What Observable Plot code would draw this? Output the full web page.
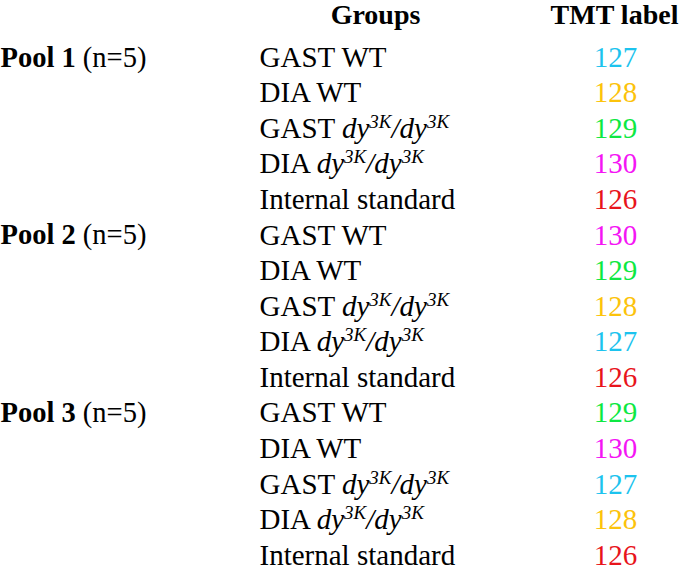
<!DOCTYPE html>
<html><head><meta charset="utf-8">
<script src="https://cdn.jsdelivr.net/npm/d3@7"></script>
<script src="https://cdn.jsdelivr.net/npm/@observablehq/plot@0.6"></script>
<style>body{margin:0;background:#fff}</style>
</head><body><div id="chart"></div>
<script>
const pools = ["Pool 1", "Pool 2", "Pool 3"];
const poolSize = "(n=5)";
const groups = ["GAST WT", "DIA WT", "GAST dy3K/dy3K", "DIA dy3K/dy3K", "Internal standard"];
const tmtPool1 = [127, 128, 129, 130, 126];
const tmtPool2 = [130, 129, 128, 127, 126];
const tmtPool3 = [129, 130, 127, 128, 126];
const tmtValues = [126, 127, 128, 129, 130];
const tmtColors = ["#e8141b", "#1cc3ee", "#fcc30b", "#0de842", "#f415f4"];
const headerGroups = "Groups";
const headerTmt = "TMT label";

const tmtByPool = [tmtPool1, tmtPool2, tmtPool3];
const rows = pools.flatMap((p, i) => groups.map((g, j) => ({
  row: i * groups.length + j, pool: j === 0 ? p : null, group: g, tmt: tmtByPool[i][j]
})));

const chart = Plot.plot({
  width: 680, height: 571,
  marginTop: 57, marginBottom: 16, marginLeft: 0, marginRight: 0,
  style: {fontFamily: "'Liberation Serif', 'Times New Roman', serif", background: "#fff", overflow: "visible"},
  y: {type: "point", domain: rows.map(d => d.row), padding: 0, round: false, axis: null},
  color: {type: "ordinal", domain: tmtValues, range: tmtColors},
  marks: [
    Plot.text([headerGroups], {text: d => d, frameAnchor: "top-left", dx: 375, dy: -42, lineAnchor: "middle", textAnchor: "middle", fontWeight: "bold", fontSize: 28, fill: "#000"}),
    Plot.text([headerTmt], {text: d => d, frameAnchor: "top-left", dx: 614, dy: -42, lineAnchor: "middle", textAnchor: "middle", fontWeight: "bold", fontSize: 28, fill: "#000"}),
    Plot.text(rows.filter(d => d.pool), {y: "row", text: d => `${d.pool} ${poolSize}`, frameAnchor: "left", textAnchor: "start", fontSize: 28.5, fill: "#000"}),
    Plot.text(rows, {y: "row", text: "group", frameAnchor: "left", dx: 259, textAnchor: "start", fontSize: 29, fill: "#000"}),
    Plot.text(rows, {y: "row", text: d => String(d.tmt), frameAnchor: "left", dx: 615, textAnchor: "middle", fontSize: 29, fill: "tmt"})
  ]
});

// rich text formatting: bold pool names, italic genotype with superscripts
d3.select(chart).selectAll("text").each(function() {
  const el = d3.select(this);
  const t = this.textContent;
  if (t.startsWith("Pool ")) {
    const k = t.indexOf(" (");
    el.text(null);
    el.append("tspan").attr("font-weight", "bold").text(t.slice(0, k));
    el.append("tspan").text(t.slice(k));
  } else if (t.includes("dy3K")) {
    const k = t.indexOf("dy");
    el.text(null);
    el.append("tspan").text(t.slice(0, k));
    const parts = t.slice(k).split("3K").filter(s => s.length);
    parts.forEach((p, i) => {
      el.append("tspan").attr("font-style", "italic").attr("dy", i === 0 ? null : 10).text(p);
      el.append("tspan").attr("font-style", "italic").attr("font-size", 19).attr("dy", -10).text("3K");
    });
  }
});

document.getElementById("chart").appendChild(chart);
</script>
</body></html>
